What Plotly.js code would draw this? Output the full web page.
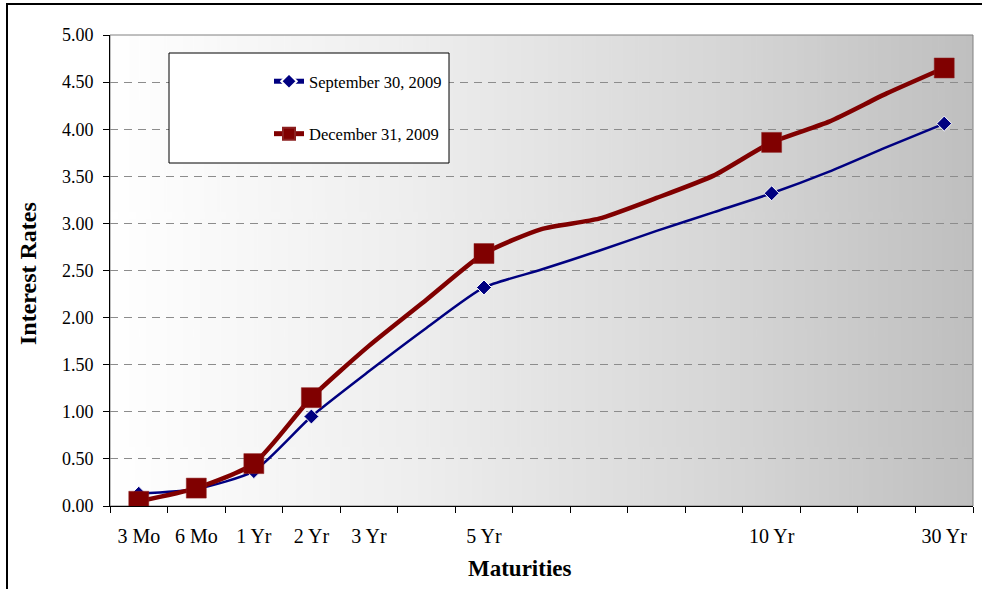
<!DOCTYPE html>
<html>
<head>
<meta charset="utf-8">
<script src="https://cdn.plot.ly/plotly-3.0.1.min.js"></script>
<style>
  html, body { margin: 0; padding: 0; background: #ffffff; }
  #wrap { position: relative; width: 982px; height: 589px; overflow: hidden; }
  #chart { position: absolute; left: 0; top: 0; width: 982px; height: 589px; }
  #frame { position: absolute; left: 6px; top: 3px; width: 1200px; height: 800px;
           border-left: 2px solid #000; border-top: 2px solid #000; pointer-events: none; }
</style>
</head>
<body>
<div id="wrap">
  <div id="chart"></div>
  <div id="frame"></div>
</div>
<script>
// ---- data ----
const tickLabels = ["3 Mo", "6 Mo", "1 Yr", "2 Yr", "3 Yr", "", "5 Yr", "", "", "", "", "10 Yr", "", "", "30 Yr"];
const markedPoints = [true, true, true, true, false, false, true, false, false, false, false, true, false, false, true];
const sept2009 = [0.13, 0.18, 0.37, 0.95, 1.43, 1.89, 2.32, 2.51, 2.71, 2.92, 3.12, 3.32, 3.55, 3.81, 4.06];
const dec2009  = [0.05, 0.19, 0.45, 1.15, 1.70, 2.19, 2.68, 2.94, 3.05, 3.27, 3.51, 3.86, 4.08, 4.38, 4.65];
const seriesNames = ["September 30, 2009", "December 31, 2009"];
const yTicks = [0, 0.5, 1, 1.5, 2, 2.5, 3, 3.5, 4, 4.5, 5];

// ---- build ----
const xIdx = tickLabels.map((_, i) => i);
const labelIdx = xIdx.filter(i => tickLabels[i] !== "");
const boundaries = [];
for (let i = 0; i <= tickLabels.length; i++) boundaries.push(i - 0.5);

// pixel helpers for the plot area (left 110, right 973, top 35, bottom 506)
const PL = 110, PR = 973, PT = 35, PB = 506;
const pxToX = px => (px - PL) / (PR - PL) * tickLabels.length - 0.5;
const pxToY = py => (PB - py) / (PB - PT) * 5;

function gradientURL() {
  const c = document.createElement('canvas');
  c.width = 512; c.height = 4;
  const g = c.getContext('2d');
  const lg = g.createLinearGradient(0, 0, 512, 0);
  lg.addColorStop(0, '#ffffff');
  lg.addColorStop(0.35, '#eeeeee');
  lg.addColorStop(0.73, '#d5d5d5');
  lg.addColorStop(1, '#bfbfbf');
  g.fillStyle = lg;
  g.fillRect(0, 0, 512, 4);
  return c.toDataURL('image/png');
}

const serif = "Liberation Serif, Times New Roman, serif";

const traces = [
  {
    x: xIdx, y: sept2009, name: seriesNames[0], type: 'scatter', mode: 'lines+markers',
    legendgroup: 'a',
    line: { color: '#000080', width: 2.5, shape: 'spline', smoothing: 0.6 },
    marker: { symbol: 'diamond', color: '#000080', opacity: 1, size: markedPoints.map(m => m ? 11.5 : 0) },
    hoverinfo: 'x+y'
  },
  {
    x: xIdx, y: dec2009, name: seriesNames[1], type: 'scatter', mode: 'lines+markers',
    legendgroup: 'b',
    line: { color: '#800000', width: 4.5, shape: 'spline', smoothing: 0.6 },
    marker: { symbol: 'square', color: '#800000', opacity: 1, size: markedPoints.map(m => m ? 20 : 0),
              line: { color: '#8c2020', width: 0.5 } },
    hoverinfo: 'x+y'
  }
];

const layout = {
  width: 982, height: 589,
  margin: { l: PL, r: 982 - PR, t: PT, b: 589 - PB, pad: 0 },
  paper_bgcolor: 'rgba(0,0,0,0)',
  plot_bgcolor: 'rgba(0,0,0,0)',
  font: { family: serif, color: '#000' },
  showlegend: true,
  legend: {
    x: (269 - PL) / (PR - PL), xanchor: 'left',
    y: (PB - 64) / (PB - PT), yanchor: 'top',
    bgcolor: 'rgba(0,0,0,0)', borderwidth: 0,
    traceorder: 'grouped', tracegroupgap: 28,
    itemsizing: 'constant',
    font: { family: serif, size: 16.5, color: '#000' }
  },
  xaxis: {
    range: [-0.5, tickLabels.length - 0.5],
    tickmode: 'array', tickvals: labelIdx, ticktext: labelIdx.map(i => tickLabels[i]),
    ticks: '', showgrid: false, zeroline: false,
    showline: true, linecolor: '#000', linewidth: 1,
    ticklabelstandoff: 12,
    tickfont: { family: serif, size: 20, color: '#000' },
    minor: { tickmode: 'array', tickvals: boundaries, ticks: 'outside', ticklen: 6, tickcolor: '#000', tickwidth: 1, showgrid: false },
    fixedrange: true
  },
  yaxis: {
    range: [0, 5], tickmode: 'array', tickvals: yTicks,
    ticktext: yTicks.map(v => v.toFixed(2)),
    ticks: 'outside', ticklen: 6, tickcolor: '#000', tickwidth: 1,
    showline: true, linecolor: '#000', linewidth: 1,
    showgrid: true, gridcolor: '#8c8c8c', gridwidth: 1, griddash: '8px,6px',
    zeroline: false,
    ticklabelstandoff: 6,
    tickfont: { family: serif, size: 18, color: '#000' },
    fixedrange: true
  },
  images: [{
    source: gradientURL(), xref: 'paper', yref: 'paper',
    x: 0, y: 1, sizex: 1, sizey: 1, xanchor: 'left', yanchor: 'top',
    sizing: 'stretch', layer: 'below'
  }],
  shapes: [
    { type: 'rect', xref: 'paper', yref: 'paper', x0: 0, x1: 1, y0: 0, y1: 1,
      line: { color: '#808080', width: 1 }, fillcolor: 'rgba(0,0,0,0)', layer: 'below' },
    { type: 'rect', xref: 'x', yref: 'y',
      x0: pxToX(169), x1: pxToX(449),
      y0: pxToY(163), y1: pxToY(53),
      line: { color: '#000', width: 1 }, fillcolor: '#ffffff', layer: 'between' }
  ],
  annotations: [
    { text: '<b>Maturities</b>', xref: 'paper', yref: 'paper',
      x: (520 - PL) / (PR - PL), y: (PB - 568) / (PB - PT), xanchor: 'center', yanchor: 'middle',
      showarrow: false, font: { family: serif, size: 23, color: '#000' } },
    { text: '<b>Interest Rates</b>', xref: 'paper', yref: 'paper', textangle: -90,
      x: (28 - PL) / (PR - PL), y: (PB - 274) / (PB - PT), xanchor: 'center', yanchor: 'middle',
      showarrow: false, font: { family: serif, size: 24, color: '#000' } }
  ]
};

Plotly.newPlot('chart', traces, layout, { displayModeBar: false, staticPlot: true });
</script>
</body>
</html>
